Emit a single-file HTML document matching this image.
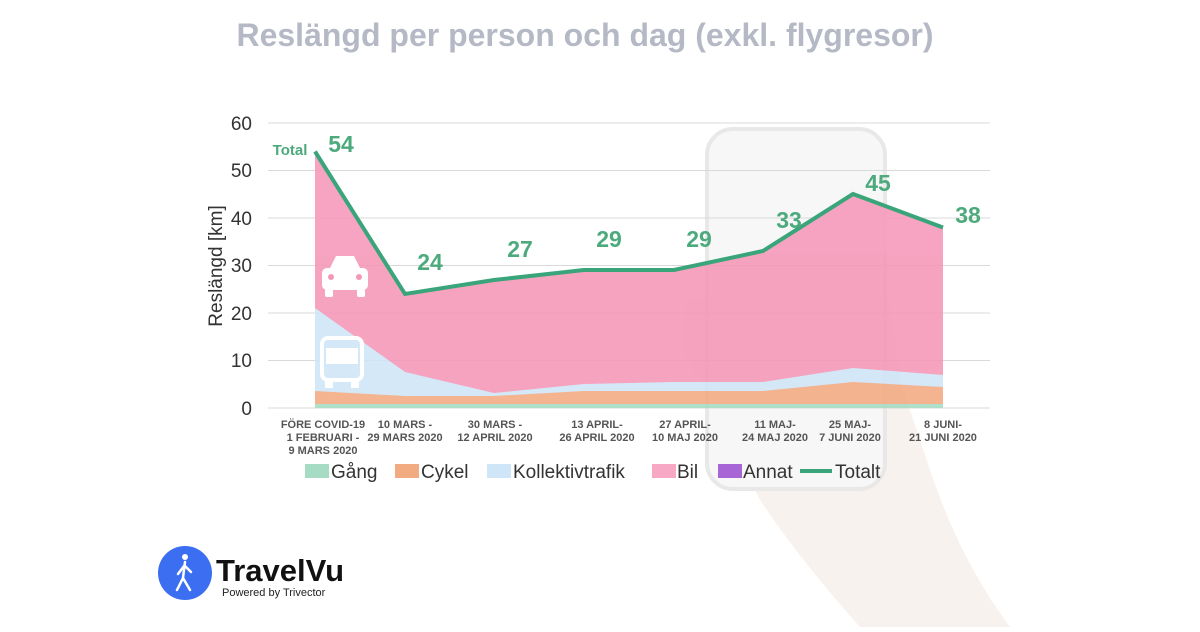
<!DOCTYPE html>
<html><head><meta charset="utf-8"><style>
html,body{margin:0;padding:0;background:#fff;}
body{width:1200px;height:627px;overflow:hidden;font-family:"Liberation Sans",sans-serif;}
</style></head><body>
<svg width="1200" height="627" viewBox="0 0 1200 627" xmlns="http://www.w3.org/2000/svg" font-family="Liberation Sans, sans-serif">
<rect width="1200" height="627" fill="#fff"/>
<path d="M690 300 Q670 340 700 380 L760 500 Q800 560 860 627 L1010 627 Q960 560 930 470 L900 380 L890 300 Z" fill="#f8f2ee"/>
<rect x="707" y="129" width="178" height="360" rx="26" fill="#f7f7f7" stroke="#e8e8e8" stroke-width="4"/>
<text x="585" y="46" text-anchor="middle" font-size="32" font-weight="bold" fill="#b5b9c6">Reslängd per person och dag (exkl. flygresor)</text>
<g stroke="#d9d9d9" stroke-width="1">
<line x1="268" y1="123" x2="990" y2="123"/><line x1="268" y1="170.5" x2="990" y2="170.5"/>
<line x1="268" y1="218" x2="990" y2="218"/><line x1="268" y1="265.5" x2="990" y2="265.5"/>
<line x1="268" y1="313" x2="990" y2="313"/><line x1="268" y1="360.5" x2="990" y2="360.5"/>
<line x1="268" y1="408" x2="990" y2="408"/>
</g>
<g font-size="19" fill="#333" text-anchor="end">
<text x="252" y="130">60</text><text x="252" y="177">50</text><text x="252" y="225">40</text>
<text x="252" y="272">30</text><text x="252" y="320">20</text><text x="252" y="367">10</text><text x="252" y="415">0</text>
</g>
<text transform="translate(222,266) rotate(-90)" text-anchor="middle" font-size="19" fill="#333">Reslängd [km]</text>
<g opacity="0.88">
<path d="M315 151.5 L405 294 L494 280 L584 270 L674 270 L763 251 L853 194 L943 227.5 L943 408 L315 408Z" fill="#f597b8"/>
<path d="M315 308 L405 372 L494 393 L584 384 L674 382 L763 382 L853 368 L943 375 L943 408 L315 408Z" fill="#cfe5f8"/>
<path d="M315 391 L405 396 L494 396 L584 391 L674 391 L763 391 L853 382 L943 387 L943 408 L315 408Z" fill="#f2aa80"/>
<path d="M315 404 L943 404 L943 408 L315 408Z" fill="#a6dcc3"/>
</g>
<polyline points="315,151.5 405,294 494,280 584,270 674,270 763,251 853,194 943,227.5" fill="none" stroke="#3aa57a" stroke-width="4"/>
<g fill="#fff">
<rect x="322" y="268" width="46" height="22" rx="5"/><path d="M330 268 L336 256 L354 256 L360 268Z"/>
<rect x="325" y="289" width="8" height="8" rx="2"/><rect x="357" y="289" width="8" height="8" rx="2"/>
</g>
<circle cx="331" cy="277" r="3" fill="#f597b8"/><circle cx="359" cy="277" r="3" fill="#f597b8"/>
<rect x="322" y="338" width="40" height="42" rx="6" fill="none" stroke="#fff" stroke-width="4"/>
<rect x="326" y="348" width="32" height="16" fill="#fff"/>
<rect x="325" y="380" width="8" height="8" fill="#fff"/><rect x="351" y="380" width="8" height="8" fill="#fff"/>
<g font-size="23" font-weight="bold" fill="#4caa7d" text-anchor="middle">
<text x="341" y="152">54</text><text x="430" y="270">24</text><text x="520" y="257">27</text>
<text x="609" y="247">29</text><text x="699" y="247">29</text><text x="789" y="228">33</text>
<text x="878" y="191">45</text><text x="968" y="223">38</text>
</g>
<text x="290" y="155" font-size="15" font-weight="bold" fill="#4caa7d" text-anchor="middle">Total</text>
<g font-size="11" font-weight="bold" fill="#555" text-anchor="middle">
<text x="323" y="428">FÖRE COVID-19</text><text x="323" y="441">1 FEBRUARI -</text><text x="323" y="454">9 MARS 2020</text>
<text x="405" y="428">10 MARS -</text><text x="405" y="441">29 MARS 2020</text>
<text x="495" y="428">30 MARS -</text><text x="495" y="441">12 APRIL 2020</text>
<text x="597" y="428">13 APRIL-</text><text x="597" y="441">26 APRIL 2020</text>
<text x="685" y="428">27 APRIL-</text><text x="685" y="441">10 MAJ 2020</text>
<text x="775" y="428">11 MAJ-</text><text x="775" y="441">24 MAJ 2020</text>
<text x="850" y="428">25 MAJ-</text><text x="850" y="441">7 JUNI 2020</text>
<text x="943" y="428">8 JUNI-</text><text x="943" y="441">21 JUNI 2020</text>
</g>
<g font-size="19" fill="#333">
<rect x="305" y="464" width="24" height="14" fill="#a6dcc3"/><text x="331" y="478">Gång</text>
<rect x="395" y="464" width="24" height="14" fill="#f2aa80"/><text x="421" y="478">Cykel</text>
<rect x="487" y="464" width="24" height="14" fill="#cfe5f8"/><text x="513" y="478">Kollektivtrafik</text>
<rect x="652" y="464" width="24" height="14" fill="#f7a8c4"/><text x="677" y="478">Bil</text>
<rect x="718" y="464" width="24" height="14" fill="#a765d6"/><text x="743" y="478">Annat</text>
<line x1="800" y1="471" x2="832" y2="471" stroke="#3aa57a" stroke-width="4"/><text x="835" y="478">Totalt</text>
</g>
<circle cx="185" cy="573" r="27" fill="#3b6ef0"/>
<circle cx="185" cy="557" r="3" fill="#fff"/>
<path d="M185 562 L183 578 L177 590 M183 578 L190 590 M184 566 L178 574 M185 566 L191 572" stroke="#fff" stroke-width="2.5" fill="none" stroke-linecap="round"/>
<text x="216" y="581" font-size="31" font-weight="bold" fill="#111">TravelVu</text>
<text x="222" y="596" font-size="11" fill="#222">Powered by Trivector</text>
</svg>
</body></html>
